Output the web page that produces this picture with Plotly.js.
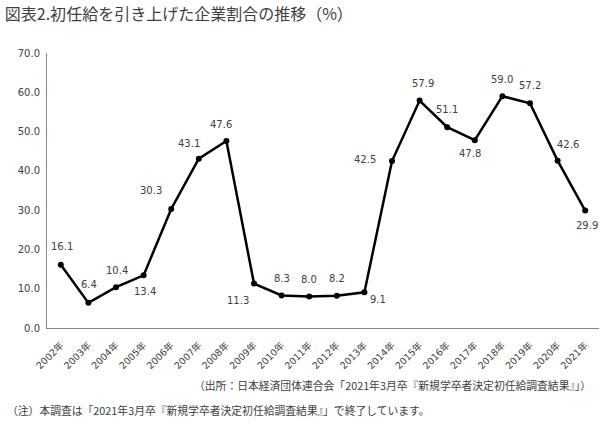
<!DOCTYPE html>
<html>
<head>
<meta charset="utf-8">
<script src="https://cdn.plot.ly/plotly-3.0.1.min.js"></script>
<style>
  body { margin: 0; background: #fff; }
  #chart { width: 600px; height: 425px; }
</style>
</head>
<body>
<div id="chart"></div>
<script>
// 初任給を引き上げた企業割合（%）
const years = ['2002年', '2003年', '2004年', '2005年', '2006年', '2007年', '2008年', '2009年', '2010年', '2011年',
               '2012年', '2013年', '2014年', '2015年', '2016年', '2017年', '2018年', '2019年', '2020年', '2021年'];
const ratio = [16.1, 6.4, 10.4, 13.4, 30.3, 43.1, 47.6, 11.3, 8.3, 8.0,
               8.2, 9.1, 42.5, 57.9, 51.1, 47.8, 59.0, 57.2, 42.6, 29.9];
const yTicks = [0, 10, 20, 30, 40, 50, 60, 70];

// データラベルのずらし量（px）
const labelShift = [[1, 18], [1, 18], [1, 17], [1, -16], [-20, 18], [-10, 15], [-5, 17],
                    [-16, -17], [0, 17], [0, 17], [0, 17], [14, -7], [-27, 2],
                    [3, 17], [0, 18], [-5, -13], [0, 17], [0, 18], [10, 16], [2, -15]];

const numFont = 'DejaVu Sans, Noto Sans CJK JP, sans-serif';
const jpFont = 'Noto Sans CJK JP, sans-serif';

const trace = {
    x: years,
    y: ratio,
    mode: 'lines+markers',
    line: { color: '#000000', width: 2.5 },
    marker: { color: '#000000', size: 6 },
    cliponaxis: false,
    hoverinfo: 'x+y'
};

const labels = years.map((yr, i) => ({
    x: yr,
    y: ratio[i],
    xref: 'x', yref: 'y',
    text: ratio[i].toFixed(1),
    showarrow: false,
    xshift: labelShift[i][0],
    yshift: labelShift[i][1],
    xanchor: 'center', yanchor: 'middle',
    font: { family: numFont, size: 10, color: '#404040' }
}));

const layout = {
    width: 600,
    height: 425,
    margin: { l: 47, r: 1, t: 53, b: 97 },
    paper_bgcolor: '#ffffff',
    plot_bgcolor: '#ffffff',
    showlegend: false,
    title: {
        text: '図表2.初任給を引き上げた企業割合の推移（%）',
        font: { family: jpFont, size: 16, color: '#404040' },
        x: 0.008, xanchor: 'left',
        y: 0.967, yanchor: 'middle'
    },
    xaxis: {
        type: 'category',
        range: [-0.5, years.length - 0.5],
        automargin: false,
        tickangle: -45,
        tickfont: { family: numFont, size: 9.5, color: '#404040' },
        ticklabelstandoff: 7,
        showline: true,
        linecolor: '#868686',
        linewidth: 1,
        showgrid: false,
        ticks: '',
        zeroline: false
    },
    yaxis: {
        automargin: false,
        range: [0, 70],
        tickvals: yTicks,
        ticktext: yTicks.map(v => v.toFixed(1)),
        tickfont: { family: numFont, size: 10, color: '#404040' },
        ticklabelstandoff: 4,
        showline: true,
        linecolor: '#868686',
        linewidth: 1,
        showgrid: false,
        zeroline: false,
        ticks: ''
    },
    annotations: labels.concat([
        {
            text: '（出所：日本経済団体連合会「2021年3月卒『新規学卒者決定初任給調査結果』」）',
            xref: 'paper', yref: 'paper',
            x: 0.99, y: -0.207, xanchor: 'right', yanchor: 'middle',
            showarrow: false,
            font: { family: jpFont, size: 10.8, color: '#404040' }
        },
        {
            text: '（注）本調査は「2021年3月卒『新規学卒者決定初任給調査結果』」で終了しています。',
            xref: 'paper', yref: 'paper',
            x: -0.076, y: -0.298, xanchor: 'left', yanchor: 'middle',
            showarrow: false,
            font: { family: jpFont, size: 10.8, color: '#404040' }
        }
    ])
};

Plotly.newPlot('chart', [trace], layout, { displayModeBar: false, staticPlot: true });
</script>
</body>
</html>
